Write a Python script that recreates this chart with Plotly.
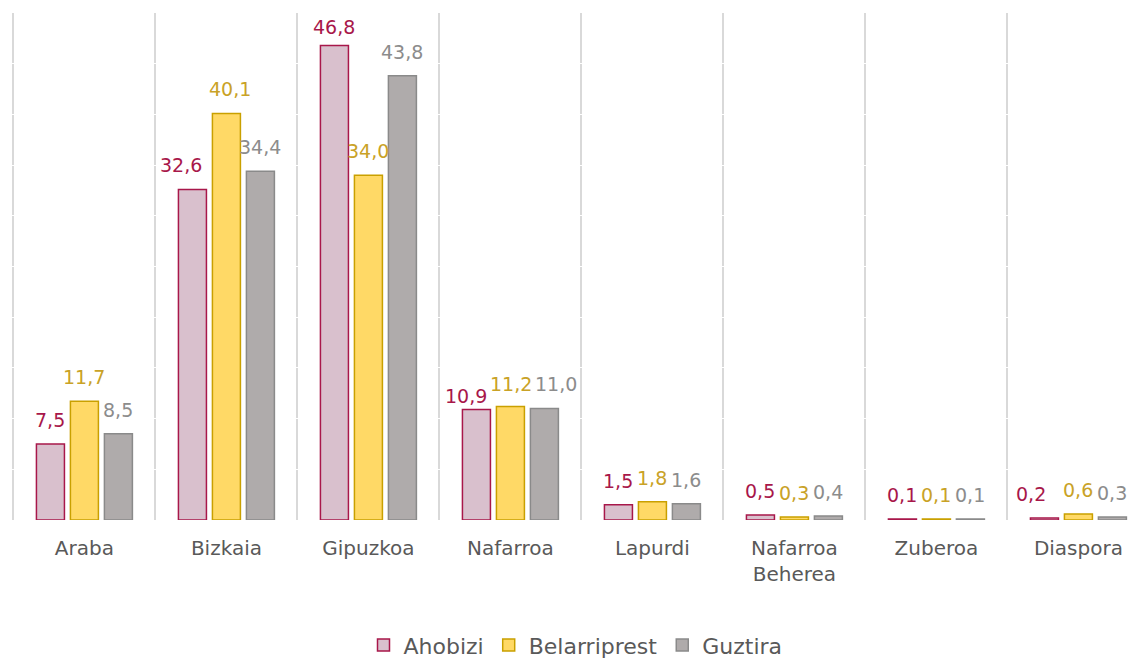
import plotly.graph_objects as go

categories = ["Araba", "Bizkaia", "Gipuzkoa", "Nafarroa", "Lapurdi",
              "Nafarroa<br>Beherea", "Zuberoa", "Diaspora"]
ahobizi = [7.5, 32.6, 46.8, 10.9, 1.5, 0.5, 0.1, 0.2]
belarriprest = [11.7, 40.1, 34.0, 11.2, 1.8, 0.3, 0.1, 0.6]
guztira = [8.5, 34.4, 43.8, 11.0, 1.6, 0.4, 0.1, 0.3]

series = [
    ("Ahobizi", ahobizi, "#D9C0CD", "#A8174A", "#A8174A"),
    ("Belarriprest", belarriprest, "#FFD966", "#C9A000", "#C9A227"),
    ("Guztira", guztira, "#AFABAB", "#8A8A8A", "#8C8C8C"),
]

# label nudges in pixels (series index, category index) -> (dx, dy), styling only
nudges = {
    (0, 1): (-11, 0), (1, 1): (4, 0),
    (0, 2): (0, -6),
    (0, 3): (-10, -11), (1, 3): (1, -2), (2, 3): (12, 0),
    (0, 7): (-13, 0),
}

FONT = "DejaVu Sans"
fig = go.Figure()
annotations = []
for si, (name, vals, fill, line, tcol) in enumerate(series):
    fig.add_trace(go.Bar(
        name=name, x=categories, y=vals, hoverinfo="skip",
        marker=dict(color=fill, line=dict(color=line, width=1.5)),
    ))
    for ci, (cat, v) in enumerate(zip(categories, vals)):
        dx, dy = nudges.get((si, ci), (0, 0))
        annotations.append(dict(
            x=cat, y=v, xref="x", yref="y", text=f"{v:.1f}".replace(".", ","),
            showarrow=False, yanchor="bottom", xanchor="center",
            xshift=(si - 1) * 34 + dx, yshift=11 + dy,
            font=dict(family=FONT, size=19, color=tcol),
        ))

fig.update_layout(
    width=1139, height=658,
    margin=dict(l=12, r=0, t=13, b=138, autoexpand=False),
    paper_bgcolor="white", plot_bgcolor="white",
    barmode="group", bargap=0.282, bargroupgap=0.176,
    font=dict(family=FONT, color="#595959", size=20),
    annotations=annotations,
    legend=dict(orientation="h", x=0.5, xanchor="center", y=-0.247, yanchor="middle",
                font=dict(size=22, color="#595959"), itemwidth=30, traceorder="normal"),
    xaxis=dict(range=[-0.51, -0.51 + 1127 / 142], showgrid=True, gridcolor="#D9D9D9",
               gridwidth=2, tickson="boundaries", ticks="", ticklabelstandoff=14,
               showline=False, automargin=False,
               tickfont=dict(size=20, color="#595959"), zeroline=False),
    yaxis=dict(range=[0, 50], dtick=5, showgrid=True, gridcolor="white", gridwidth=1,
               showticklabels=False, zeroline=False, showline=False, automargin=False),
)

fig.write_html("out.html", config={"displayModeBar": False},
               post_script="document.body.style.margin='0';")
